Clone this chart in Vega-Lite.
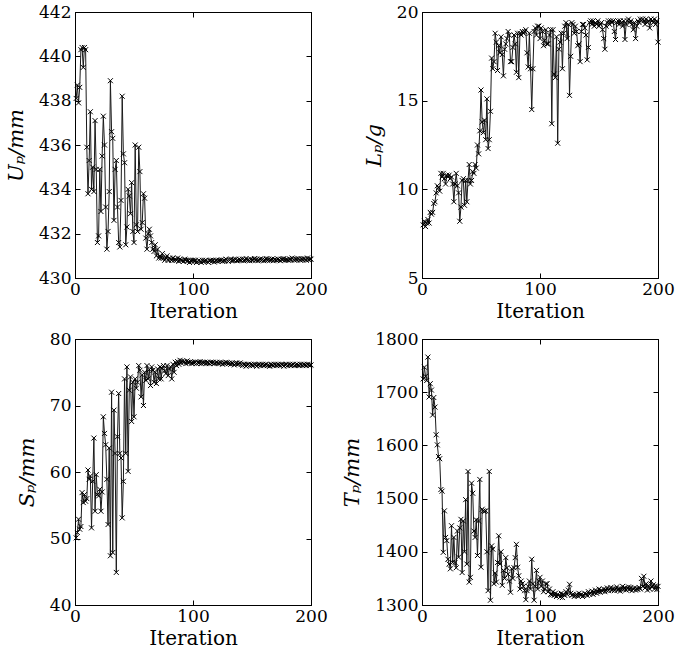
{
  "$schema": "https://vega.github.io/schema/vega-lite/v6.json",
  "background": "white",
  "padding": {"left": 5, "top": 2, "right": 0, "bottom": 0},
  "datasets": {
    "U": [
      {"i":1,"v":438.1},{"i":2,"v":438.7},{"i":3,"v":437.9},{"i":4,"v":438.6},{"i":5,"v":440.3},{"i":6,"v":440.4},{"i":7,"v":439.5},{"i":8,"v":440.4},{"i":9,"v":440.3},{"i":10,"v":435.9},
      {"i":11,"v":433.8},{"i":12,"v":435.3},{"i":13,"v":437.5},{"i":14,"v":434.0},{"i":15,"v":435.0},{"i":16,"v":433.9},{"i":17,"v":437.1},{"i":18,"v":434.9},{"i":19,"v":431.6},{"i":20,"v":431.9},
      {"i":21,"v":434.9},{"i":22,"v":433.0},{"i":23,"v":435.5},{"i":24,"v":437.3},{"i":25,"v":436.0},{"i":26,"v":433.2},{"i":27,"v":431.3},{"i":28,"v":432.1},{"i":29,"v":433.9},{"i":30,"v":438.9},
      {"i":31,"v":436.6},{"i":32,"v":436.3},{"i":33,"v":432.6},{"i":34,"v":434.9},{"i":35,"v":435.3},{"i":36,"v":433.2},{"i":37,"v":431.6},{"i":38,"v":431.4},{"i":39,"v":433.5},{"i":40,"v":438.2},
      {"i":41,"v":435.6},{"i":42,"v":435.2},{"i":43,"v":431.5},{"i":44,"v":432.3},{"i":45,"v":434.0},{"i":46,"v":433.7},{"i":47,"v":432.9},{"i":48,"v":434.3},{"i":49,"v":432.1},{"i":50,"v":431.6},
      {"i":51,"v":436.0},{"i":52,"v":432.4},{"i":53,"v":432.1},{"i":54,"v":435.9},{"i":55,"v":434.8},{"i":56,"v":432.2},{"i":57,"v":432.5},{"i":58,"v":433.8},{"i":59,"v":433.6},{"i":60,"v":431.8},
      {"i":61,"v":431.3},{"i":62,"v":432.0},{"i":63,"v":432.2},{"i":64,"v":431.9},{"i":65,"v":431.6},{"i":66,"v":431.3},{"i":67,"v":431.2},{"i":68,"v":431.5},{"i":69,"v":431.0},{"i":70,"v":431.3},
      {"i":71,"v":430.9},{"i":72,"v":431.0},{"i":73,"v":430.9},{"i":74,"v":431.1},{"i":75,"v":430.9},{"i":76,"v":430.8},{"i":77,"v":430.9},{"i":78,"v":431.0},{"i":79,"v":430.8},{"i":80,"v":430.9},
      {"i":81,"v":430.85},{"i":82,"v":430.8},{"i":83,"v":430.9},{"i":84,"v":430.8},{"i":85,"v":430.85},{"i":86,"v":430.8},{"i":87,"v":430.9},{"i":88,"v":430.75},{"i":89,"v":430.85},{"i":90,"v":430.8},
      {"i":91,"v":430.8},{"i":92,"v":430.75},{"i":93,"v":430.85},{"i":94,"v":430.8},{"i":95,"v":430.75},{"i":96,"v":430.8},{"i":97,"v":430.7},{"i":98,"v":430.8},{"i":99,"v":430.75},{"i":100,"v":430.8},
      {"i":101,"v":430.75},{"i":102,"v":430.8},{"i":103,"v":430.7},{"i":104,"v":430.75},{"i":105,"v":430.8},{"i":106,"v":430.75},{"i":107,"v":430.7},{"i":108,"v":430.8},{"i":109,"v":430.75},{"i":110,"v":430.78},
      {"i":111,"v":430.8},{"i":112,"v":430.75},{"i":113,"v":430.7},{"i":114,"v":430.78},{"i":115,"v":430.8},{"i":116,"v":430.75},{"i":117,"v":430.8},{"i":118,"v":430.72},{"i":119,"v":430.78},{"i":120,"v":430.8},
      {"i":121,"v":430.75},{"i":122,"v":430.8},{"i":123,"v":430.78},{"i":124,"v":430.82},{"i":125,"v":430.75},{"i":126,"v":430.8},{"i":127,"v":430.78},{"i":128,"v":430.85},{"i":129,"v":430.8},{"i":130,"v":430.75},
      {"i":131,"v":430.8},{"i":132,"v":430.85},{"i":133,"v":430.78},{"i":134,"v":430.82},{"i":135,"v":430.8},{"i":136,"v":430.85},{"i":137,"v":430.78},{"i":138,"v":430.8},{"i":139,"v":430.85},{"i":140,"v":430.82},
      {"i":141,"v":430.8},{"i":142,"v":430.85},{"i":143,"v":430.78},{"i":144,"v":430.82},{"i":145,"v":430.88},{"i":146,"v":430.8},{"i":147,"v":430.82},{"i":148,"v":430.78},{"i":149,"v":430.85},{"i":150,"v":430.8},
      {"i":151,"v":430.82},{"i":152,"v":430.88},{"i":153,"v":430.8},{"i":154,"v":430.85},{"i":155,"v":430.78},{"i":156,"v":430.82},{"i":157,"v":430.86},{"i":158,"v":430.8},{"i":159,"v":430.84},{"i":160,"v":430.78},
      {"i":161,"v":430.82},{"i":162,"v":430.88},{"i":163,"v":430.8},{"i":164,"v":430.85},{"i":165,"v":430.8},{"i":166,"v":430.82},{"i":167,"v":430.86},{"i":168,"v":430.78},{"i":169,"v":430.84},{"i":170,"v":430.82},
      {"i":171,"v":430.8},{"i":172,"v":430.86},{"i":173,"v":430.82},{"i":174,"v":430.78},{"i":175,"v":430.85},{"i":176,"v":430.82},{"i":177,"v":430.88},{"i":178,"v":430.8},{"i":179,"v":430.84},{"i":180,"v":430.82},
      {"i":181,"v":430.8},{"i":182,"v":430.86},{"i":183,"v":430.82},{"i":184,"v":430.9},{"i":185,"v":430.84},{"i":186,"v":430.8},{"i":187,"v":430.86},{"i":188,"v":430.82},{"i":189,"v":430.88},{"i":190,"v":430.84},
      {"i":191,"v":430.8},{"i":192,"v":430.86},{"i":193,"v":430.82},{"i":194,"v":430.88},{"i":195,"v":430.84},{"i":196,"v":430.8},{"i":197,"v":430.9},{"i":198,"v":430.82},{"i":199,"v":430.86},{"i":200,"v":430.85}
    ],
    "L": [
      {"i":1,"v":8.0},{"i":2,"v":8.2},{"i":3,"v":7.9},{"i":4,"v":8.1},{"i":5,"v":8.3},{"i":6,"v":8.1},{"i":7,"v":8.7},{"i":8,"v":8.6},{"i":9,"v":8.7},{"i":10,"v":9.2},
      {"i":11,"v":9.3},{"i":12,"v":9.8},{"i":13,"v":10.2},{"i":14,"v":10.1},{"i":15,"v":9.9},{"i":16,"v":10.9},{"i":17,"v":10.7},{"i":18,"v":10.9},{"i":19,"v":10.6},{"i":20,"v":10.3},
      {"i":21,"v":10.8},{"i":22,"v":10.7},{"i":23,"v":10.8},{"i":24,"v":10.6},{"i":25,"v":10.7},{"i":26,"v":10.3},{"i":27,"v":9.3},{"i":28,"v":10.3},{"i":29,"v":10.9},{"i":30,"v":10.2},
      {"i":31,"v":9.8},{"i":32,"v":8.2},{"i":33,"v":9.0},{"i":34,"v":10.5},{"i":35,"v":10.6},{"i":36,"v":9.1},{"i":37,"v":10.5},{"i":38,"v":9.3},{"i":39,"v":10.5},{"i":40,"v":11.4},
      {"i":41,"v":10.3},{"i":42,"v":10.5},{"i":43,"v":11.0},{"i":44,"v":10.9},{"i":45,"v":11.4},{"i":46,"v":11.2},{"i":47,"v":12.5},{"i":48,"v":12.0},{"i":49,"v":13.3},{"i":50,"v":15.6},
      {"i":51,"v":13.8},{"i":52,"v":13.2},{"i":53,"v":13.9},{"i":54,"v":12.8},{"i":55,"v":15.1},{"i":56,"v":12.3},{"i":57,"v":12.8},{"i":58,"v":14.4},{"i":59,"v":17.4},{"i":60,"v":16.8},
      {"i":61,"v":17.2},{"i":62,"v":18.8},{"i":63,"v":18.3},{"i":64,"v":16.7},{"i":65,"v":18.1},{"i":66,"v":17.7},{"i":67,"v":18.6},{"i":68,"v":17.6},{"i":69,"v":16.4},{"i":70,"v":17.9},
      {"i":71,"v":18.2},{"i":72,"v":18.5},{"i":73,"v":18.9},{"i":74,"v":18.7},{"i":75,"v":17.2},{"i":76,"v":17.2},{"i":77,"v":18.0},{"i":78,"v":18.7},{"i":79,"v":18.2},{"i":80,"v":16.6},
      {"i":81,"v":18.8},{"i":82,"v":16.3},{"i":83,"v":18.8},{"i":84,"v":18.7},{"i":85,"v":18.9},{"i":86,"v":18.8},{"i":87,"v":18.9},{"i":88,"v":19.0},{"i":89,"v":17.7},{"i":90,"v":16.9},
      {"i":91,"v":18.8},{"i":92,"v":16.8},{"i":93,"v":14.5},{"i":94,"v":16.8},{"i":95,"v":18.9},{"i":96,"v":19.1},{"i":97,"v":18.7},{"i":98,"v":19.2},{"i":99,"v":19.2},{"i":100,"v":18.5},
      {"i":101,"v":19.1},{"i":102,"v":18.9},{"i":103,"v":18.1},{"i":104,"v":18.4},{"i":105,"v":19.0},{"i":106,"v":18.2},{"i":107,"v":18.2},{"i":108,"v":18.7},{"i":109,"v":19.0},{"i":110,"v":13.7},
      {"i":111,"v":19.0},{"i":112,"v":16.5},{"i":113,"v":16.3},{"i":114,"v":18.6},{"i":115,"v":12.6},{"i":116,"v":17.9},{"i":117,"v":18.3},{"i":118,"v":18.8},{"i":119,"v":16.8},{"i":120,"v":18.8},
      {"i":121,"v":19.2},{"i":122,"v":19.4},{"i":123,"v":18.5},{"i":124,"v":19.3},{"i":125,"v":15.3},{"i":126,"v":17.5},{"i":127,"v":19.4},{"i":128,"v":19.3},{"i":129,"v":18.8},{"i":130,"v":19.2},
      {"i":131,"v":18.9},{"i":132,"v":18.1},{"i":133,"v":18.2},{"i":134,"v":17.2},{"i":135,"v":18.9},{"i":136,"v":19.3},{"i":137,"v":19.3},{"i":138,"v":19.1},{"i":139,"v":18.7},{"i":140,"v":17.3},
      {"i":141,"v":18.0},{"i":142,"v":19.4},{"i":143,"v":19.5},{"i":144,"v":19.3},{"i":145,"v":19.5},{"i":146,"v":19.2},{"i":147,"v":19.4},{"i":148,"v":19.3},{"i":149,"v":19.5},{"i":150,"v":19.2},
      {"i":151,"v":19.3},{"i":152,"v":19.4},{"i":153,"v":19.0},{"i":154,"v":18.5},{"i":155,"v":17.9},{"i":156,"v":19.2},{"i":157,"v":19.4},{"i":158,"v":19.5},{"i":159,"v":19.3},{"i":160,"v":19.5},
      {"i":161,"v":19.4},{"i":162,"v":19.5},{"i":163,"v":18.9},{"i":164,"v":18.45},{"i":165,"v":19.4},{"i":166,"v":19.5},{"i":167,"v":19.3},{"i":168,"v":19.5},{"i":169,"v":19.4},{"i":170,"v":19.2},
      {"i":171,"v":19.5},{"i":172,"v":18.45},{"i":173,"v":19.3},{"i":174,"v":19.5},{"i":175,"v":19.6},{"i":176,"v":19.4},{"i":177,"v":19.5},{"i":178,"v":19.3},{"i":179,"v":19.0},{"i":180,"v":19.4},
      {"i":181,"v":18.5},{"i":182,"v":19.2},{"i":183,"v":19.5},{"i":184,"v":19.4},{"i":185,"v":19.6},{"i":186,"v":19.5},{"i":187,"v":19.6},{"i":188,"v":19.5},{"i":189,"v":19.3},{"i":190,"v":19.6},
      {"i":191,"v":19.4},{"i":192,"v":19.5},{"i":193,"v":19.1},{"i":194,"v":19.6},{"i":195,"v":19.5},{"i":196,"v":19.4},{"i":197,"v":19.6},{"i":198,"v":19.3},{"i":199,"v":19.5},{"i":200,"v":18.3}
    ],
    "S": [
      {"i":1,"v":50.1},{"i":2,"v":50.9},{"i":3,"v":52.9},{"i":4,"v":51.4},{"i":5,"v":51.8},{"i":6,"v":56.9},{"i":7,"v":55.4},{"i":8,"v":56.6},{"i":9,"v":55.6},{"i":10,"v":56.0},
      {"i":11,"v":60.3},{"i":12,"v":58.9},{"i":13,"v":59.4},{"i":14,"v":51.6},{"i":15,"v":58.6},{"i":16,"v":65.1},{"i":17,"v":54.1},{"i":18,"v":59.6},{"i":19,"v":56.6},{"i":20,"v":56.4},
      {"i":21,"v":57.4},{"i":22,"v":54.1},{"i":23,"v":57.0},{"i":24,"v":68.3},{"i":25,"v":65.8},{"i":26,"v":64.1},{"i":27,"v":58.9},{"i":28,"v":52.1},{"i":29,"v":63.6},{"i":30,"v":47.4},
      {"i":31,"v":72.0},{"i":32,"v":47.9},{"i":33,"v":69.3},{"i":34,"v":62.8},{"i":35,"v":44.9},{"i":36,"v":65.3},{"i":37,"v":71.8},{"i":38,"v":62.8},{"i":39,"v":62.1},{"i":40,"v":53.1},
      {"i":41,"v":58.6},{"i":42,"v":74.0},{"i":43,"v":62.8},{"i":44,"v":75.8},{"i":45,"v":60.1},{"i":46,"v":72.3},{"i":47,"v":74.3},{"i":48,"v":67.6},{"i":49,"v":73.5},{"i":50,"v":68.3},
      {"i":51,"v":74.0},{"i":52,"v":72.6},{"i":53,"v":73.5},{"i":54,"v":76.0},{"i":55,"v":75.3},{"i":56,"v":71.3},{"i":57,"v":74.6},{"i":58,"v":70.0},{"i":59,"v":75.0},{"i":60,"v":73.8},
      {"i":61,"v":76.0},{"i":62,"v":74.0},{"i":63,"v":75.4},{"i":64,"v":73.0},{"i":65,"v":75.8},{"i":66,"v":75.3},{"i":67,"v":73.5},{"i":68,"v":75.0},{"i":69,"v":73.3},{"i":70,"v":75.5},
      {"i":71,"v":74.0},{"i":72,"v":75.8},{"i":73,"v":74.0},{"i":74,"v":75.6},{"i":75,"v":76.0},{"i":76,"v":75.2},{"i":77,"v":74.8},{"i":78,"v":76.0},{"i":79,"v":74.5},{"i":80,"v":75.5},
      {"i":81,"v":75.8},{"i":82,"v":74.0},{"i":83,"v":76.2},{"i":84,"v":75.0},{"i":85,"v":76.5},{"i":86,"v":76.0},{"i":87,"v":76.6},{"i":88,"v":76.2},{"i":89,"v":76.8},{"i":90,"v":76.4},
      {"i":91,"v":76.7},{"i":92,"v":76.5},{"i":93,"v":76.6},{"i":94,"v":76.3},{"i":95,"v":76.7},{"i":96,"v":76.4},{"i":97,"v":76.5},{"i":98,"v":76.6},{"i":99,"v":76.3},{"i":100,"v":76.5},
      {"i":101,"v":76.4},{"i":102,"v":76.5},{"i":103,"v":76.3},{"i":104,"v":76.5},{"i":105,"v":76.4},{"i":106,"v":76.6},{"i":107,"v":76.3},{"i":108,"v":76.5},{"i":109,"v":76.4},{"i":110,"v":76.5},
      {"i":111,"v":76.3},{"i":112,"v":76.5},{"i":113,"v":76.4},{"i":114,"v":76.3},{"i":115,"v":76.5},{"i":116,"v":76.4},{"i":117,"v":76.5},{"i":118,"v":76.3},{"i":119,"v":76.4},{"i":120,"v":76.5},
      {"i":121,"v":76.4},{"i":122,"v":76.3},{"i":123,"v":76.5},{"i":124,"v":76.4},{"i":125,"v":76.2},{"i":126,"v":76.4},{"i":127,"v":76.3},{"i":128,"v":76.5},{"i":129,"v":76.4},{"i":130,"v":76.3},
      {"i":131,"v":76.4},{"i":132,"v":76.2},{"i":133,"v":76.4},{"i":134,"v":76.3},{"i":135,"v":76.1},{"i":136,"v":76.3},{"i":137,"v":76.4},{"i":138,"v":76.2},{"i":139,"v":76.3},{"i":140,"v":76.4},
      {"i":141,"v":76.2},{"i":142,"v":76.0},{"i":143,"v":76.2},{"i":144,"v":76.1},{"i":145,"v":75.9},{"i":146,"v":76.1},{"i":147,"v":76.2},{"i":148,"v":76.0},{"i":149,"v":76.2},{"i":150,"v":76.1},
      {"i":151,"v":76.0},{"i":152,"v":76.2},{"i":153,"v":76.1},{"i":154,"v":75.9},{"i":155,"v":76.1},{"i":156,"v":76.2},{"i":157,"v":76.0},{"i":158,"v":76.1},{"i":159,"v":76.2},{"i":160,"v":76.0},
      {"i":161,"v":76.1},{"i":162,"v":76.2},{"i":163,"v":76.0},{"i":164,"v":76.1},{"i":165,"v":75.9},{"i":166,"v":76.2},{"i":167,"v":76.1},{"i":168,"v":76.0},{"i":169,"v":76.2},{"i":170,"v":76.1},
      {"i":171,"v":76.0},{"i":172,"v":76.2},{"i":173,"v":76.1},{"i":174,"v":76.0},{"i":175,"v":76.2},{"i":176,"v":76.1},{"i":177,"v":75.9},{"i":178,"v":76.1},{"i":179,"v":76.2},{"i":180,"v":76.0},
      {"i":181,"v":76.1},{"i":182,"v":76.2},{"i":183,"v":76.0},{"i":184,"v":76.1},{"i":185,"v":76.2},{"i":186,"v":76.0},{"i":187,"v":76.1},{"i":188,"v":76.2},{"i":189,"v":76.1},{"i":190,"v":76.0},
      {"i":191,"v":76.2},{"i":192,"v":76.1},{"i":193,"v":76.0},{"i":194,"v":76.2},{"i":195,"v":76.1},{"i":196,"v":76.0},{"i":197,"v":76.2},{"i":198,"v":76.1},{"i":199,"v":76.0},{"i":200,"v":76.1}
    ],
    "T": [
      {"i":1,"v":1725},{"i":2,"v":1747},{"i":3,"v":1730},{"i":4,"v":1722},{"i":5,"v":1766},{"i":6,"v":1691},{"i":7,"v":1716},{"i":8,"v":1704},{"i":9,"v":1657},{"i":10,"v":1690},
      {"i":11,"v":1672},{"i":12,"v":1620},{"i":13,"v":1601},{"i":14,"v":1579},{"i":15,"v":1575},{"i":16,"v":1517},{"i":17,"v":1514},{"i":18,"v":1399},{"i":19,"v":1477},{"i":20,"v":1427},
      {"i":21,"v":1421},{"i":22,"v":1386},{"i":23,"v":1377},{"i":24,"v":1368},{"i":25,"v":1449},{"i":26,"v":1380},{"i":27,"v":1427},{"i":28,"v":1380},{"i":29,"v":1370},{"i":30,"v":1439},
      {"i":31,"v":1390},{"i":32,"v":1445},{"i":33,"v":1461},{"i":34,"v":1361},{"i":35,"v":1458},{"i":36,"v":1400},{"i":37,"v":1498},{"i":38,"v":1377},{"i":39,"v":1551},{"i":40,"v":1343},
      {"i":41,"v":1352},{"i":42,"v":1529},{"i":43,"v":1510},{"i":44,"v":1439},{"i":45,"v":1427},{"i":46,"v":1460},{"i":47,"v":1393},{"i":48,"v":1458},{"i":49,"v":1536},{"i":50,"v":1371},
      {"i":51,"v":1480},{"i":52,"v":1477},{"i":53,"v":1476},{"i":54,"v":1477},{"i":55,"v":1400},{"i":56,"v":1327},{"i":57,"v":1551},{"i":58,"v":1309},{"i":59,"v":1411},{"i":60,"v":1405},
      {"i":61,"v":1340},{"i":62,"v":1360},{"i":63,"v":1343},{"i":64,"v":1380},{"i":65,"v":1430},{"i":66,"v":1377},{"i":67,"v":1400},{"i":68,"v":1337},{"i":69,"v":1365},{"i":70,"v":1350},
      {"i":71,"v":1389},{"i":72,"v":1370},{"i":73,"v":1358},{"i":74,"v":1345},{"i":75,"v":1324},{"i":76,"v":1368},{"i":77,"v":1350},{"i":78,"v":1370},{"i":79,"v":1389},{"i":80,"v":1414},
      {"i":81,"v":1371},{"i":82,"v":1355},{"i":83,"v":1330},{"i":84,"v":1345},{"i":85,"v":1340},{"i":86,"v":1335},{"i":87,"v":1327},{"i":88,"v":1310},{"i":89,"v":1327},{"i":90,"v":1335},
      {"i":91,"v":1345},{"i":92,"v":1330},{"i":93,"v":1386},{"i":94,"v":1340},{"i":95,"v":1309},{"i":96,"v":1335},{"i":97,"v":1365},{"i":98,"v":1330},{"i":99,"v":1345},{"i":100,"v":1352},
      {"i":101,"v":1335},{"i":102,"v":1345},{"i":103,"v":1325},{"i":104,"v":1330},{"i":105,"v":1340},{"i":106,"v":1340},{"i":107,"v":1325},{"i":108,"v":1330},{"i":109,"v":1320},{"i":110,"v":1319},
      {"i":111,"v":1325},{"i":112,"v":1318},{"i":113,"v":1322},{"i":114,"v":1316},{"i":115,"v":1320},{"i":116,"v":1318},{"i":117,"v":1315},{"i":118,"v":1322},{"i":119,"v":1314},{"i":120,"v":1320},
      {"i":121,"v":1318},{"i":122,"v":1325},{"i":123,"v":1320},{"i":124,"v":1328},{"i":125,"v":1339},{"i":126,"v":1322},{"i":127,"v":1318},{"i":128,"v":1320},{"i":129,"v":1316},{"i":130,"v":1318},
      {"i":131,"v":1320},{"i":132,"v":1317},{"i":133,"v":1322},{"i":134,"v":1318},{"i":135,"v":1320},{"i":136,"v":1316},{"i":137,"v":1318},{"i":138,"v":1322},{"i":139,"v":1320},{"i":140,"v":1318},
      {"i":141,"v":1325},{"i":142,"v":1320},{"i":143,"v":1322},{"i":144,"v":1326},{"i":145,"v":1320},{"i":146,"v":1324},{"i":147,"v":1328},{"i":148,"v":1322},{"i":149,"v":1325},{"i":150,"v":1330},
      {"i":151,"v":1324},{"i":152,"v":1328},{"i":153,"v":1326},{"i":154,"v":1330},{"i":155,"v":1325},{"i":156,"v":1328},{"i":157,"v":1332},{"i":158,"v":1327},{"i":159,"v":1330},{"i":160,"v":1333},
      {"i":161,"v":1328},{"i":162,"v":1331},{"i":163,"v":1327},{"i":164,"v":1330},{"i":165,"v":1334},{"i":166,"v":1328},{"i":167,"v":1331},{"i":168,"v":1326},{"i":169,"v":1330},{"i":170,"v":1335},
      {"i":171,"v":1329},{"i":172,"v":1332},{"i":173,"v":1328},{"i":174,"v":1331},{"i":175,"v":1334},{"i":176,"v":1329},{"i":177,"v":1333},{"i":178,"v":1327},{"i":179,"v":1330},{"i":180,"v":1332},
      {"i":181,"v":1328},{"i":182,"v":1331},{"i":183,"v":1329},{"i":184,"v":1333},{"i":185,"v":1330},{"i":186,"v":1350},{"i":187,"v":1335},{"i":188,"v":1354},{"i":189,"v":1332},{"i":190,"v":1340},
      {"i":191,"v":1328},{"i":192,"v":1336},{"i":193,"v":1330},{"i":194,"v":1345},{"i":195,"v":1334},{"i":196,"v":1338},{"i":197,"v":1330},{"i":198,"v":1336},{"i":199,"v":1329},{"i":200,"v":1335}
    ]
  },
  "columns": 2,
  "bounds": "flush",
  "spacing": {"row": 61, "column": 111},
  "concat": [
    {
      "data": {"name": "U"},
      "width": 236,
      "height": 266,
      "layer": [
        {
          "mark": {"type": "line", "color": "#1a1a1a", "strokeWidth": 1},
          "encoding": {
            "x": {"field": "i", "type": "quantitative", "scale": {"domain": [0, 200], "nice": false}, "axis": {"title": "Iteration", "values": [0, 100, 200]}},
            "y": {"field": "v", "type": "quantitative", "scale": {"domain": [430, 442], "nice": false, "zero": false}, "axis": {"title": "Uₚ/mm", "values": [430, 432, 434, 436, 438, 440, 442]}}
          }
        },
        {
          "mark": {"type": "point", "shape": "M-1,-1L1,1M-1,1L1,-1", "filled": false, "stroke": "black", "size": 25, "strokeWidth": 1, "opacity": 1},
          "encoding": {
            "x": {"field": "i", "type": "quantitative", "scale": {"domain": [0, 200], "nice": false}, "axis": {"orient": "top", "labels": false, "title": null, "values": [0, 100, 200]}},
            "y": {"field": "v", "type": "quantitative", "scale": {"domain": [430, 442], "nice": false, "zero": false}, "axis": {"orient": "right", "labels": false, "title": null, "values": [430, 432, 434, 436, 438, 440, 442]}}
          }
        }
      ],
      "resolve": {"axis": {"x": "independent", "y": "independent"}}
    },
    {
      "data": {"name": "L"},
      "width": 236,
      "height": 266,
      "layer": [
        {
          "mark": {"type": "line", "color": "#1a1a1a", "strokeWidth": 1},
          "encoding": {
            "x": {"field": "i", "type": "quantitative", "scale": {"domain": [0, 200], "nice": false}, "axis": {"title": "Iteration", "values": [0, 100, 200]}},
            "y": {"field": "v", "type": "quantitative", "scale": {"domain": [5, 20], "nice": false, "zero": false}, "axis": {"title": "Lₚ/g", "values": [5, 10, 15, 20]}}
          }
        },
        {
          "mark": {"type": "point", "shape": "M-1,-1L1,1M-1,1L1,-1", "filled": false, "stroke": "black", "size": 25, "strokeWidth": 1, "opacity": 1},
          "encoding": {
            "x": {"field": "i", "type": "quantitative", "scale": {"domain": [0, 200], "nice": false}, "axis": {"orient": "top", "labels": false, "title": null, "values": [0, 100, 200]}},
            "y": {"field": "v", "type": "quantitative", "scale": {"domain": [5, 20], "nice": false, "zero": false}, "axis": {"orient": "right", "labels": false, "title": null, "values": [5, 10, 15, 20]}}
          }
        }
      ],
      "resolve": {"axis": {"x": "independent", "y": "independent"}}
    },
    {
      "data": {"name": "S"},
      "width": 236,
      "height": 266,
      "layer": [
        {
          "mark": {"type": "line", "color": "#1a1a1a", "strokeWidth": 1},
          "encoding": {
            "x": {"field": "i", "type": "quantitative", "scale": {"domain": [0, 200], "nice": false}, "axis": {"title": "Iteration", "values": [0, 100, 200]}},
            "y": {"field": "v", "type": "quantitative", "scale": {"domain": [40, 80], "nice": false, "zero": false}, "axis": {"title": "Sₚ/mm", "values": [40, 50, 60, 70, 80]}}
          }
        },
        {
          "mark": {"type": "point", "shape": "M-1,-1L1,1M-1,1L1,-1", "filled": false, "stroke": "black", "size": 25, "strokeWidth": 1, "opacity": 1},
          "encoding": {
            "x": {"field": "i", "type": "quantitative", "scale": {"domain": [0, 200], "nice": false}, "axis": {"orient": "top", "labels": false, "title": null, "values": [0, 100, 200]}},
            "y": {"field": "v", "type": "quantitative", "scale": {"domain": [40, 80], "nice": false, "zero": false}, "axis": {"orient": "right", "labels": false, "title": null, "values": [40, 50, 60, 70, 80]}}
          }
        }
      ],
      "resolve": {"axis": {"x": "independent", "y": "independent"}}
    },
    {
      "data": {"name": "T"},
      "width": 236,
      "height": 266,
      "layer": [
        {
          "mark": {"type": "line", "color": "#1a1a1a", "strokeWidth": 1},
          "encoding": {
            "x": {"field": "i", "type": "quantitative", "scale": {"domain": [0, 200], "nice": false}, "axis": {"title": "Iteration", "values": [0, 100, 200]}},
            "y": {"field": "v", "type": "quantitative", "scale": {"domain": [1300, 1800], "nice": false, "zero": false}, "axis": {"title": "Tₚ/mm", "values": [1300, 1400, 1500, 1600, 1700, 1800]}}
          }
        },
        {
          "mark": {"type": "point", "shape": "M-1,-1L1,1M-1,1L1,-1", "filled": false, "stroke": "black", "size": 25, "strokeWidth": 1, "opacity": 1},
          "encoding": {
            "x": {"field": "i", "type": "quantitative", "scale": {"domain": [0, 200], "nice": false}, "axis": {"orient": "top", "labels": false, "title": null, "values": [0, 100, 200]}},
            "y": {"field": "v", "type": "quantitative", "scale": {"domain": [1300, 1800], "nice": false, "zero": false}, "axis": {"orient": "right", "labels": false, "title": null, "values": [1300, 1400, 1500, 1600, 1700, 1800]}}
          }
        }
      ],
      "resolve": {"axis": {"x": "independent", "y": "independent"}}
    }
  ],
  "config": {
    "font": "DejaVu Serif",
    "view": {"stroke": "black", "strokeWidth": 1},
    "axis": {
      "labelFont": "DejaVu Serif",
      "labelFontSize": 17,
      "labelColor": "black",
      "titleFont": "DejaVu Serif",
      "titleFontWeight": "normal",
      "titleColor": "black",
      "domainColor": "black",
      "tickColor": "black",
      "tickSize": -5,
      "labelPadding": 9,
      "grid": false,
      "labelFlush": false,
      "labelOverlap": false,
      "format": "d"
    },
    "axisX": {"titleFontSize": 20, "titlePadding": 4, "labelPadding": 8},
    "axisY": {"titleFontSize": 21, "titleFontStyle": "italic", "titlePadding": 12}
  }
}
